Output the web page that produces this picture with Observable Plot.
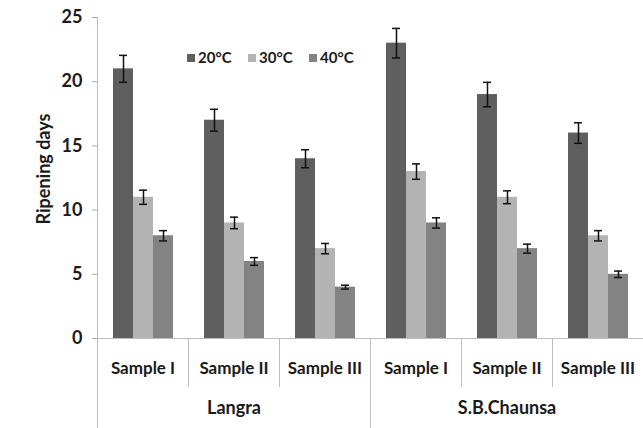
<!DOCTYPE html>
<html><head><meta charset="utf-8">
<script src="https://cdn.jsdelivr.net/npm/d3@7"></script>
<script src="https://cdn.jsdelivr.net/npm/@observablehq/plot@0.6"></script>
<style>
body{margin:0;background:#fff;}
#wrap{position:relative;width:643px;height:428px;font-family:Lato,"Open Sans",sans-serif;}
#legend{position:absolute;left:187px;top:49px;display:flex;font-weight:bold;font-size:15px;color:#1a1a1a;line-height:17px;}
#legend .item{display:flex;align-items:center;width:61px;}
#legend .sw{width:8px;height:8px;margin-right:3px;}
</style></head><body>
<div id="wrap"><div id="chart"></div><div id="legend"></div></div>
<script>
const cultivars = ["Langra", "S.B.Chaunsa"];
const samples = ["Sample I", "Sample II", "Sample III"];
const temps = ["20°C", "30°C", "40°C"];
const colors = ["#5f5f5f", "#b3b3b3", "#838383"];
const langraDays = [[21, 11, 8], [17, 9, 6], [14, 7, 4]];
const langraErr = [[1.05, 0.55, 0.4], [0.85, 0.45, 0.3], [0.7, 0.4, 0.15]];
const chaunsaDays = [[23, 13, 9], [19, 11, 7], [16, 8, 5]];
const chaunsaErr = [[1.15, 0.6, 0.4], [0.95, 0.5, 0.35], [0.8, 0.4, 0.25]];
const yTicks = [0, 5, 10, 15, 20, 25];
const yTitle = "Ripening days";

const daysBy = [langraDays, chaunsaDays];
const errBy = [langraErr, chaunsaErr];
const groups = [];
const rows = [];
cultivars.forEach((c, ci) => samples.forEach((s, si) => {
  const g = c + "|" + s;
  groups.push(g);
  temps.forEach((t, ti) => rows.push({group: g, cultivar: c, sample: s, temp: t,
    days: daysBy[ci][si][ti], err: errBy[ci][si][ti]}));
}));
const cultivarLabels = cultivars.map(c => ({key: c + "|" + samples[1], name: c}));

const plot = Plot.plot({
  width: 643, height: 428,
  marginLeft: 97, marginRight: 0, marginTop: 17, marginBottom: 90,
  style: {fontFamily: "Lato, 'Open Sans', sans-serif", color: "#1a1a1a", background: "white"},
  fx: {domain: groups, padding: 0, label: null},
  x: {domain: temps, paddingInner: 0, paddingOuter: 0.775, axis: null},
  y: {domain: [0, 25], label: null},
  color: {domain: temps, range: colors},
  marks: [
    Plot.axisY({ticks: yTicks, tickSize: 5, tickPadding: 10, stroke: "#a8a8a8", fill: "#1a1a1a",
      fontSize: 18, fontWeight: "bold", label: null}),
    Plot.axisFx({anchor: "bottom", tickSize: 0, tickPadding: 23, tickFormat: d => d.split("|")[1],
      fontSize: 17, fontWeight: "bold", fill: "#1a1a1a", label: null}),
    Plot.barY(rows, {fx: "group", x: "temp", y: "days", fill: "temp"}),
    Plot.ruleX(rows, {fx: "group", x: "temp", y1: d => d.days - d.err, y2: d => d.days + d.err,
      stroke: "#111", strokeWidth: 1.5}),
    Plot.tickY(rows, {fx: "group", x: "temp", y: d => d.days - d.err, stroke: "#111", strokeWidth: 1.5, inset: 6}),
    Plot.tickY(rows, {fx: "group", x: "temp", y: d => d.days + d.err, stroke: "#111", strokeWidth: 1.5, inset: 6}),
    Plot.ruleY([0], {stroke: "#bdbdbd"}),
    Plot.text(cultivarLabels, {fx: "key", text: "name", frameAnchor: "bottom", dy: 75,
      fontSize: 18, fontWeight: "bold", fill: "#1a1a1a"}),
    Plot.text([{key: groups[0], label: yTitle}], {fx: "key", text: "label", frameAnchor: "left",
      textAnchor: "middle", rotate: -90, dx: -53, dy: -9, fontSize: 18, fontWeight: "bold", fill: "#1a1a1a"})
  ]
});
document.getElementById("chart").appendChild(plot);

// axis line and category dividers, positioned with the plot's own scales
const fxd = plot.scale("fx"), yd = plot.scale("y");
const fxs = d3.scaleBand(fxd.domain, fxd.range)
  .paddingInner(fxd.paddingInner ?? 0).paddingOuter(fxd.paddingOuter ?? 0).align(fxd.align ?? 0.5);
const ys = d3.scaleLinear(yd.domain, yd.range);
const g = d3.select(plot).append("g").attr("stroke", "#bdbdbd").attr("stroke-width", 1);
const x0 = fxs(groups[0]);
g.append("line").attr("x1", x0 + 0.5).attr("x2", x0 + 0.5).attr("y1", ys(25)).attr("y2", 428);
groups.forEach((k, i) => {
  if (i === 0) return;
  const x = Math.round(fxs(k)) + 0.5;
  const major = i === samples.length;
  g.append("line").attr("x1", x).attr("x2", x).attr("y1", ys(0)).attr("y2", major ? 428 : ys(0) + 49);
});

const legend = d3.select("#legend");
temps.forEach((t, i) => {
  const it = legend.append("div").attr("class", "item");
  it.append("div").attr("class", "sw").style("background", colors[i]);
  it.append("span").text(t);
});
</script>
</body></html>
